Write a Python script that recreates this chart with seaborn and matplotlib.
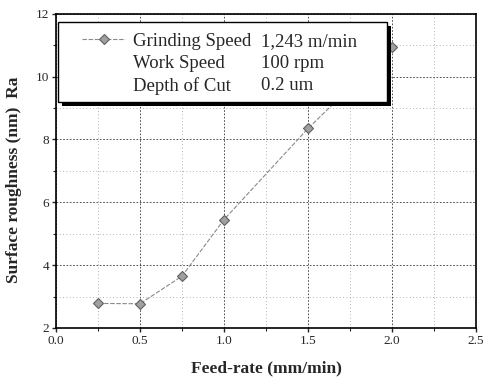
import matplotlib
matplotlib.use("Agg")
import matplotlib.pyplot as plt
import seaborn as sns
import pandas as pd
import numpy as np
from matplotlib.lines import Line2D
from matplotlib.patches import Rectangle
from matplotlib.legend_handler import HandlerLine2D
from matplotlib.ticker import MultipleLocator

feed_rate = [0.25, 0.5, 0.75, 1.0, 1.5, 2.0]
roughness = [2.78, 2.77, 3.65, 5.45, 8.35, 10.95]
legend_names = ["Grinding Speed", "Work Speed", "Depth of Cut"]
legend_values = ["1,243 m/min", "100 rpm", "0.2 um"]
x_ticks = [0.0, 0.5, 1.0, 1.5, 2.0, 2.5]
y_ticks = [2, 4, 6, 8, 10, 12]

sns.set_style("white")
plt.rcParams['font.family'] = ['Liberation Serif', 'DejaVu Serif']

fig = plt.figure(figsize=(4.85, 3.84), dpi=100)
ax = fig.add_axes([0.1155, 0.146, 0.866, 0.818])

LINE_KW = dict(color="#8a8a8a", lw=0.8, linestyle=(0, (4, 1.5)), marker="D",
               markersize=5, markerfacecolor="#a0a0a0", markeredgecolor="#606060",
               markeredgewidth=0.8)

df = pd.DataFrame({"feed": feed_rate, "ra": roughness})
sns.lineplot(data=df, x="feed", y="ra", ax=ax, **LINE_KW)

ax.set_xlim(0, 2.5)
ax.set_ylim(2, 12)
ax.set_xticks(x_ticks)
ax.set_xticklabels([f"{v:.1f}" for v in x_ticks])
ax.set_yticks(y_ticks)
ax.set_yticklabels([str(v) for v in y_ticks])
ax.xaxis.set_minor_locator(MultipleLocator(0.25))
ax.yaxis.set_minor_locator(MultipleLocator(1))
ax.grid(which="major", color="#333333", linestyle=(0, (2, 2)), lw=0.6)
ax.grid(which="minor", color="#999999", linestyle=(0, (1, 3)), lw=0.6)
ax.tick_params(which="major", direction="out", length=3, width=1, labelsize=9.5, pad=2,
               bottom=True, left=True)
ax.tick_params(which="minor", direction="out", length=2, width=0.8, bottom=True, left=True)
for s in ax.spines.values():
    s.set_color("black")
    s.set_linewidth(1.2)

ax.set_xlabel("Feed-rate (mm/min)", fontsize=12.5, fontweight="bold", labelpad=10)
ax.set_ylabel("Surface roughness (nm)  Ra", fontsize=12.5, fontweight="bold")
ax.yaxis.set_label_coords(-0.08, 0.47)


class OffsetLineHandler(HandlerLine2D):
    def get_xdata(self, legend, xdescent, ydescent, width, height, fontsize):
        x0 = -xdescent + width * 0.23
        x1 = -xdescent + width
        xdata = np.linspace(x0, x1, self.get_numpoints(legend) + 1)
        xm = np.array([(x0 + x1) / 2])
        return xdata, xm


line_handle = Line2D([], [], **LINE_KW)
blank = [Line2D([], [], color="none") for _ in range(5)]
handles = [line_handle, blank[0], blank[1], blank[2], blank[3], blank[4]]
labels = legend_names + legend_values
fs = 13.5
hl, htp = 3.0, 0.4
leg = ax.legend(handles, labels, ncol=2, loc="upper left", bbox_to_anchor=(0.005, 0.975),
                fontsize=fs, frameon=True, fancybox=False, edgecolor="black",
                borderpad=0.58, labelspacing=0.28, handlelength=hl, handletextpad=htp,
                columnspacing=-(hl + htp) + 0.55, borderaxespad=0,
                handler_map={line_handle: OffsetLineHandler(numpoints=1)})
leg.get_frame().set_linewidth(1.0)
leg.get_frame().set_facecolor("white")
leg.set_zorder(5)

fig.canvas.draw()
bb = leg.get_frame().get_window_extent()
inv = ax.transAxes.inverted()
extra = 19
trim = 4
sh = 4
(x0, y0) = inv.transform((bb.x0 + sh, bb.y0 + trim - sh))
(x1, y1) = inv.transform((bb.x1 + extra + sh, bb.y1 - sh))
(fx0, fy0) = inv.transform((bb.x0, bb.y0 + trim))
(fx1, fy1) = inv.transform((bb.x1 + extra, bb.y1))
# shadow and widened frame drawn behind the legend contents
ax.add_patch(Rectangle((x0, y0), x1 - x0, y1 - y0, transform=ax.transAxes,
                       facecolor="black", edgecolor="none", zorder=4.8, clip_on=False))
ax.add_patch(Rectangle((fx0, fy0), fx1 - fx0, fy1 - fy0, transform=ax.transAxes,
                       facecolor="white", edgecolor="black", lw=1.0, zorder=4.9,
                       clip_on=False))
leg.get_frame().set_visible(False)

fig.savefig("out.png", dpi=100)
